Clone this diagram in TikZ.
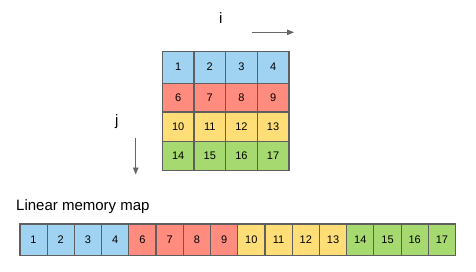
\documentclass[tikz,border=0pt]{standalone}
\usepackage{fontspec}
\setmainfont{Liberation Sans}
\usetikzlibrary{arrows.meta}
\definecolor{cblue}{HTML}{A0D3F2}
\definecolor{cred}{HTML}{FF8C7F}
\definecolor{cyel}{HTML}{FFDE78}
\definecolor{cgrn}{HTML}{A6D96F}
\definecolor{cline}{HTML}{5F5F5F}
\definecolor{carrow}{HTML}{666666}
\begin{document}
\begin{tikzpicture}[x=1pt,y=-1pt,
  cell/.style={draw=cline,line width=1.2pt,inner sep=0pt,anchor=north west,font=\fontsize{11}{13}\selectfont},
  lbl/.style={inner sep=0pt,font=\fontsize{15}{17}\selectfont},
  dirarrow/.style={draw=carrow,line width=0.9pt,-{Triangle[length=7pt,width=5.5pt]}}]
\useasboundingbox (0,0) rectangle (476,271);
% grid
\foreach \r/\ry/\rh/\col in {0/50.5/32/cblue,1/82.5/28.8/cred,2/111.3/29.2/cyel,3/140.5/29.5/cgrn}{
  \foreach \c in {0,1,2,3}{
    \pgfmathsetmacro{\xx}{161.7+31.65*\c}
    \pgfmathtruncatemacro{\num}{\r==0 ? 1+\c : 2+4*\r+\c}
    \node[cell,fill=\col,minimum width=31.65pt,minimum height=\rh pt] (g\r\c) at (\xx,\ry) {\num};
  }
}
% labels and arrows
\node[lbl] (ilbl) at (220.7,18.5) {i};
\coordinate (ia) at (251.7,32.3);
\coordinate (ib) at (294,32.3);
\draw[dirarrow] (ia) -- (ib);
\node[lbl] (jlbl) at (116.7,121.5) {j};
\coordinate (ja) at (135.7,138);
\coordinate (jb) at (135.7,174.5);
\draw[dirarrow] (ja) -- (jb);
% linear map
\node[lbl,anchor=west] (title) at (16,206.5) {Linear memory map};
\foreach \k/\col in {0/cblue,1/cblue,2/cblue,3/cblue,4/cred,5/cred,6/cred,7/cred,8/cyel,9/cyel,10/cyel,11/cyel,12/cgrn,13/cgrn,14/cgrn,15/cgrn}{
  \pgfmathsetmacro{\xx}{19.3+27.23*\k}
  \pgfmathtruncatemacro{\num}{\k<4 ? \k+1 : \k+2}
  \node[cell,fill=\col,minimum width=27.23pt,minimum height=31.7pt] (m\k) at (\xx,223.3) {\num};
}
\end{tikzpicture}
\end{document}
